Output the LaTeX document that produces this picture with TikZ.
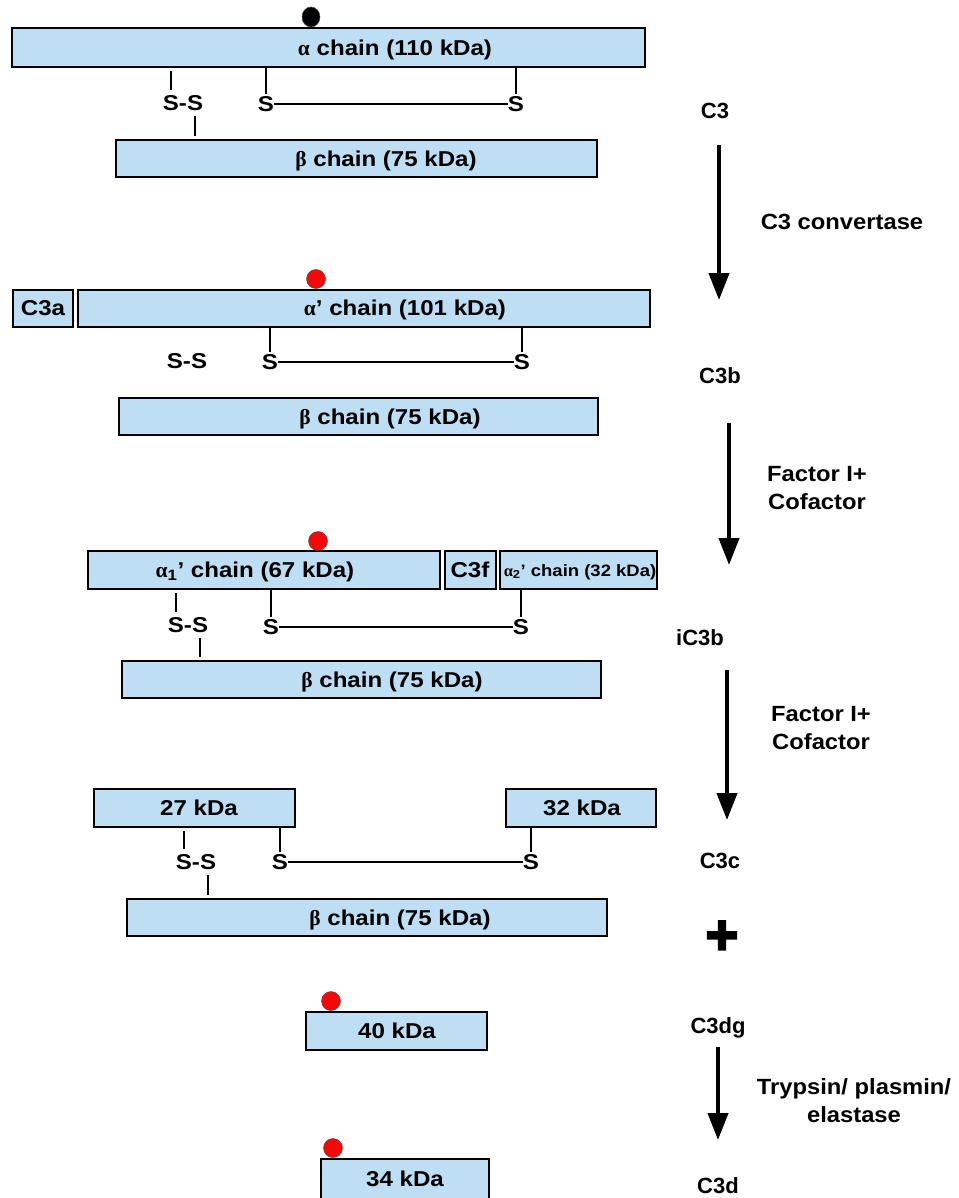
\documentclass[tikz,border=0pt]{standalone}
\usepackage{fontspec}
\setmainfont{Liberation Sans}
\newfontfamily\grk{Liberation Serif}
\newfontfamily\wide[FakeStretch=1.12]{Liberation Sans}
\newfontfamily\lwide[FakeStretch=1.08]{Liberation Sans}
\newfontfamily\heavy[BoldFeatures={FakeBold=4}]{Liberation Sans}
\usetikzlibrary{arrows.meta, positioning, shapes.geometric}
\definecolor{cbox}{RGB}{189, 222, 243}
\definecolor{cred}{RGB}{245, 8, 8}
\tikzset{
  chain/.style={draw=black, line width=2.4pt, fill=cbox, inner sep=0pt, outer sep=0pt, anchor=north west},
  txt/.style={font=\fontsize{21.5}{26}\wide\bfseries, inner sep=0pt, text height=15.5pt, text depth=0pt},
  small/.style={font=\fontsize{16.5}{20}\wide\bfseries, inner sep=0pt, text height=12pt, text depth=0pt},
  state/.style={font=\fontsize{22}{26}\selectfont\bfseries, inner sep=0pt, text height=16pt, text depth=0pt},
  lab/.style={font=\fontsize{22}{28}\lwide\bfseries, align=center, inner sep=0pt},
  bond/.style={line width=1.8pt},
  ssbond/.style={bond, shorten <=5pt, shorten >=4pt},
  arr/.style={-{Triangle[length=27pt, width=20pt]}, line width=4pt},
  tag/.style={circle, draw=black!70, line width=0.5pt, fill=cred, minimum size=19pt, inner sep=0pt},
}

\begin{document}
\begin{tikzpicture}[x=1pt, y=-1pt]
\useasboundingbox (0,0) rectangle (958,1198);

% ---------- C3 ----------
\node[chain, minimum width=633, minimum height=39] (a1) at (12,28) {};
\node[txt] (a1t) at (395,48) {{\grk α} chain (110 kDa)};
\node[tag, ellipse, fill=black, minimum width=18, minimum height=20] (d1) at (311,17) {};
\node[chain, minimum width=481, minimum height=37] (b1) at (116,140) {};
\node[txt] (b1t) at (386,159) {{\grk β} chain (75 kDa)};
\node[txt] (ss1) at (183,103) {S-S};
\node[txt] (s1a) at (266,104) {S};
\node[txt] (s1b) at (516,104) {S};
\draw[ssbond] ([xshift=-12pt]ss1.north) -- ([xshift=-12pt]ss1.north |- a1.south);
\draw[ssbond] ([xshift=12pt]ss1.south) -- ([xshift=12pt]ss1.south |- b1.north);
\draw[bond, shorten <=2pt] (s1a.north) -- (s1a.north |- a1.south);
\draw[bond, shorten <=2pt] (s1b.north) -- (s1b.north |- a1.south);
\draw[bond] (s1a.east) -- (s1b.west);

% ---------- C3b ----------
\node[chain, minimum width=60, minimum height=37] (c3a) at (13,290) {};
\node[txt] (c3at) at (43,308) {C3a};
\node[chain, minimum width=572, minimum height=37] (a2) at (78,290) {};
\node[txt] (a2t) at (405,308) {{\grk α}’ chain (101 kDa)};
\node[tag] (d2) at (316,279) {};
\node[chain, minimum width=479, minimum height=37] (b2) at (119,398) {};
\node[txt] (b2t) at (390,417) {{\grk β} chain (75 kDa)};
\node[txt] (ss2) at (187,361) {S-S};
\node[txt] (s2a) at (270,362) {S};
\node[txt] (s2b) at (522,362) {S};
\draw[bond, shorten <=2pt] (s2a.north) -- (s2a.north |- a2.south);
\draw[bond, shorten <=2pt] (s2b.north) -- (s2b.north |- a2.south);
\draw[bond] (s2a.east) -- (s2b.west);

% ---------- iC3b ----------
\node[chain, minimum width=352, minimum height=38] (a3) at (88,551) {};
\node[txt] (a3t) at (255,570) {{\grk α}\textsubscript{1}’ chain (67 kDa)};
\node[chain, minimum width=51, minimum height=38] (c3f) at (445,551) {};
\node[txt] (c3ft) at (470,570) {C3f};
\node[chain, minimum width=157, minimum height=38] (a3r) at (500,551) {};
\node[small] (a3rt) at (580,570) {{\grk α}\textsubscript{2}’ chain (32 kDa)};
\node[tag] (d3) at (318,541) {};
\node[chain, minimum width=479, minimum height=37] (b3) at (122,661) {};
\node[txt] (b3t) at (392,680) {{\grk β} chain (75 kDa)};
\node[txt] (ss3) at (188,625) {S-S};
\node[txt] (s3a) at (271,627) {S};
\node[txt] (s3b) at (521,627) {S};
\draw[ssbond] ([xshift=-12pt]ss3.north) -- ([xshift=-12pt]ss3.north |- a3.south);
\draw[ssbond] ([xshift=12pt]ss3.south) -- ([xshift=12pt]ss3.south |- b3.north);
\draw[bond, shorten <=2pt] (s3a.north) -- (s3a.north |- a3.south);
\draw[bond, shorten <=2pt] (s3b.north) -- (s3b.north |- a3r.south);
\draw[bond] (s3a.east) -- (s3b.west);

% ---------- C3c ----------
\node[chain, minimum width=201, minimum height=38] (f27) at (94,789) {};
\node[txt] (f27t) at (199,808) {27 kDa};
\node[chain, minimum width=150, minimum height=38] (f32) at (506,789) {};
\node[txt] (f32t) at (582,808) {32 kDa};
\node[chain, minimum width=480, minimum height=37] (b4) at (127,899) {};
\node[txt] (b4t) at (400,918) {{\grk β} chain (75 kDa)};
\node[txt] (ss4) at (196,862) {S-S};
\node[txt] (s4a) at (280,862) {S};
\node[txt] (s4b) at (531,862) {S};
\draw[ssbond] ([xshift=-12pt]ss4.north) -- ([xshift=-12pt]ss4.north |- f27.south);
\draw[ssbond] ([xshift=12pt]ss4.south) -- ([xshift=12pt]ss4.south |- b4.north);
\draw[bond, shorten <=2pt] (s4a.north) -- (s4a.north |- f27.south);
\draw[bond, shorten <=2pt] (s4b.north) -- (s4b.north |- f32.south);
\draw[bond] (s4a.east) -- (s4b.west);

% ---------- C3dg / C3d ----------
\node[tag] (d5) at (331,1001) {};
\node[chain, minimum width=181, minimum height=38] (f40) at (306,1012) {};
\node[txt] (f40t) at (397,1031) {40 kDa};
\node[tag] (d6) at (333,1148) {};
\node[chain, minimum width=168, minimum height=45] (f34) at (321,1159) {};
\node[txt] (f34t) at (405,1179) {34 kDa};

% ---------- right column ----------
\node[state] (lC3) at (715,111) {C3};
\node[state] (lC3b) at (720,375) {C3b};
\node[state] (liC3b) at (700,637) {iC3b};
\node[state] (lC3c) at (720,860) {C3c};
\node[state, font=\fontsize{56}{56}\heavy\bfseries, text height=30pt] (plus) at (722,939) {+};
\node[state] (lC3dg) at (718,1025) {C3dg};
\node[state] (lC3d) at (718,1185) {C3d};

\coordinate (t1) at (719,145);  \coordinate (h1) at (719,300);
\coordinate (t2) at (729,423);  \coordinate (h2) at (729,565);
\coordinate (t3) at (727,670);  \coordinate (h3) at (727,820);
\coordinate (t4) at (718,1047); \coordinate (h4) at (718,1140);
\draw[arr] (t1) -- (h1);
\draw[arr] (t2) -- (h2);
\draw[arr] (t3) -- (h3);
\draw[arr] (t4) -- (h4);

\node[lab] (conv) at (842,222) {C3 convertase};
\node[lab] (fac1) at (817,488) {Factor I+\\Cofactor};
\node[lab] (fac2) at (821,728) {Factor I+\\Cofactor};
\node[lab] (tryp) at (854,1101) {Trypsin/ plasmin/\\elastase};

\end{tikzpicture}
\end{document}
